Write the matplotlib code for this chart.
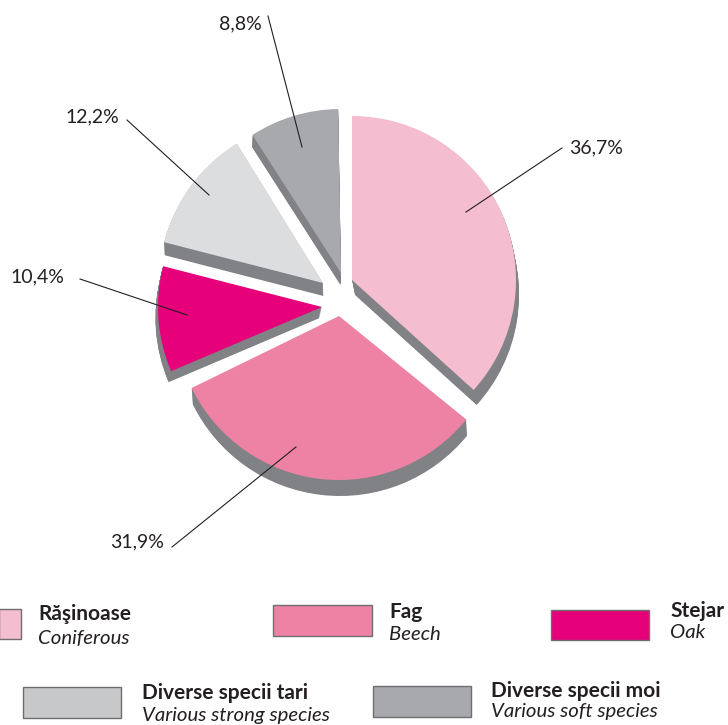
import matplotlib
matplotlib.use('Agg')
import matplotlib.pyplot as plt
from matplotlib.patches import Rectangle
import numpy as np

plt.rcParams['font.family'] = ['Lato', 'DejaVu Sans']

W, H = 728, 725

# data
species = ['Răşinoase', 'Fag', 'Stejar', 'Diverse specii tari', 'Diverse specii moi']
species_en = ['Coniferous', 'Beech', 'Oak', 'Various strong species', 'Various soft species']
shares = [36.7, 31.9, 10.4, 12.2, 8.8]
colors = ['#F5BDD0', '#EE82A5', '#E6007A', '#DCDDDF', '#A7A9AC']
swatch_colors = ['#F5BDD0', '#EE82A5', '#E6007A', '#C7C8CA', '#A7A9AC']
shadow_color = '#808285'

# layout, in picture pixels (y down)
radius = 164
apex = [(352, 280), (339, 316), (322, 307), (323, 283), (341, 273)]
turn = [0, 3, 0, 0, 1]
depth = [(3, 15), (1, 16), (-2.5, 11), (0.5, 13), (-0.5, 12)]
label_xy = [(596, 148), (137, 542), (37, 277), (92, 117), (240, 24)]
leader_from = [(562, 148), (172, 547), (80, 279), (127, 120), (268, 16)]
leader_to = [(466, 212), (296, 447), (187, 315), (209, 195), (302, 147)]
swatch_box = [(-1, 609, 22, 30), (273, 605, 99, 31), (551, 610, 98, 30), (23, 687, 98, 31), (373, 686, 98, 31)]
legend_x = [38, 389, 670, 142, 491]
legend_y1 = [614, 612, 611, 693, 691]
legend_y2 = [638, 634, 632, 715, 712]


def flip(y):
    return H - y


def draw_pie(ax, cols, shift, z):
    wedges, _ = ax.pie(shares, colors=cols, startangle=90, counterclock=False, radius=radius,
                       wedgeprops={'linewidth': 0, 'zorder': z})
    for i, w in enumerate(wedges):
        dx, dy = shift * depth[i][0], shift * depth[i][1]
        w.set_center((apex[i][0] + dx, flip(apex[i][1] + dy)))
        w.set_theta1(w.theta1 + turn[i])
        w.set_theta2(w.theta2 + turn[i])


fig = plt.figure(figsize=(W / 100, H / 100), dpi=100)
ax = fig.add_axes([0, 0, 1, 1])

for s in np.linspace(1, 0.05, 20):
    draw_pie(ax, [shadow_color] * len(shares), s, 1)
draw_pie(ax, colors, 0, 2)

for i, v in enumerate(shares):
    ax.plot([leader_from[i][0], leader_to[i][0]], [flip(leader_from[i][1]), flip(leader_to[i][1])],
            color='#231F20', lw=0.8, zorder=3)
    ax.text(label_xy[i][0], flip(label_xy[i][1]), f'{v:.1f}'.replace('.', ',') + '%',
            fontsize=14, color='#231F20', ha='center', va='center')

for i, name in enumerate(species):
    x, y, w, h = swatch_box[i]
    ax.add_patch(Rectangle((x, flip(y + h)), w, h, facecolor=swatch_colors[i],
                           edgecolor='#6D6E71', lw=1, clip_on=True))
    ax.text(legend_x[i], flip(legend_y1[i]), name, fontsize=15, fontweight='bold',
            color='#231F20', ha='left', va='center')
    ax.text(legend_x[i], flip(legend_y2[i]), species_en[i], fontsize=14.7, style='italic',
            color='#231F20', ha='left', va='center')

ax.set_xlim(0, W)
ax.set_ylim(0, H)
ax.set_aspect('auto')
ax.axis('off')
fig.savefig('out.png', dpi=100)
